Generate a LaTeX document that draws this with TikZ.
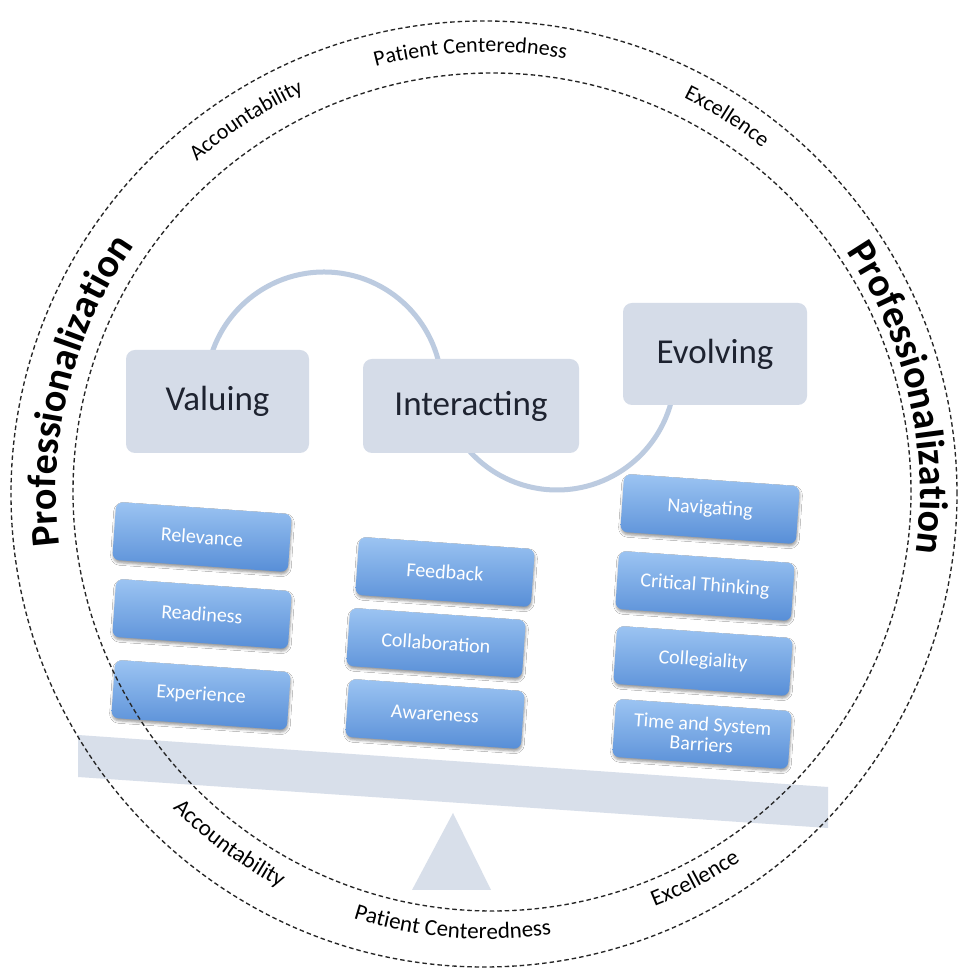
\documentclass[tikz,border=0pt]{standalone}
\usepackage{fontspec}
\setmainfont{Carlito}
\usepackage{xcolor}
\definecolor{stageGray}{HTML}{D5DCE8}
\definecolor{beamGray}{HTML}{D8DFEA}
\definecolor{waveBlue}{HTML}{BCCBE0}
\definecolor{itemTop}{HTML}{9CC4F2}
\definecolor{itemBottom}{HTML}{578ED7}
\definecolor{labelInk}{HTML}{1E2330}
\usepackage{tikz}
\usetikzlibrary{shadows.blur,decorations.text}

\newcommand{\ringfont}{\fontsize{22}{22}\selectfont}
\newcommand{\lowringfont}{\fontsize{23}{23}\selectfont}
\newcommand{\bigringfont}{\fontsize{40}{40}\selectfont\bfseries}

\begin{document}
\begin{tikzpicture}[x=1pt,y=1pt,
  stagebox/.style={fill=stageGray,rounded corners=9pt,text=labelInk,
    font=\fontsize{35}{40}\selectfont},
  itembox/.style={rounded corners=7pt,top color=itemTop,bottom color=itemBottom,
    minimum width=176pt,minimum height=58pt,rotate=-4,text=white,align=center,
    font=\fontsize{20}{20}\selectfont,
    blur shadow={shadow xshift=0.5pt,shadow yshift=-2.5pt,shadow blur radius=2.5pt,shadow opacity=40}},
  ringline/.style={black!85,line width=1.35pt,dash pattern=on 4.5pt off 3pt},
  waveline/.style={draw=waveBlue,line width=5pt},
  ringtext/.style={decorate,decoration={text along path,text align=center,text={#1}}}]
  \fill[white] (0,0) rectangle (958,971);
  \useasboundingbox (0,0) rectangle (958,971);

  % the two loops linking the stages
  \coordinate (upperloop) at (324,581);
  \coordinate (lowerloop) at (557,599);
  \draw[waveline] ([shift={(180:118)}]upperloop) arc[start angle=180,end angle=0,radius=118];
  \draw[waveline] ([shift={(180:118)}]lowerloop) arc[start angle=180,end angle=360,radius=118];

  % beam and fulcrum
  \fill[beamGray] (78,236) -- (828,184) -- (828,143) -- (78,194) -- cycle;
  \fill[beamGray] (453,158) -- (491,81) -- (412,81) -- cycle;

  % stages
  \node[stagebox,minimum width=183pt,minimum height=103pt] (valuing) at (217.5,569.5) {Valuing};
  \node[stagebox,minimum width=216pt,minimum height=94pt] (interacting) at (471,565) {Interacting};
  \node[stagebox,minimum width=184pt,minimum height=102pt] (evolving) at (715,617) {Evolving};

  % items under each stage
  \node[itembox] (relevance) at (202,434) {Relevance};
  \node[itembox] (readiness) at (202,357) {Readiness};
  \node[itembox] (experience) at (201,276) {Experience};
  \node[itembox] (feedback) at (445,399) {Feedback};
  \node[itembox] (collaboration) at (436,328) {Collaboration};
  \node[itembox] (awareness) at (435,257) {Awareness};
  \node[itembox] (navigating) at (710,462) {Navigating};
  \node[itembox] (critical) at (705,385) {Critical Thinking};
  \node[itembox] (collegiality) at (703,310) {Collegiality};
  \node[itembox] (barriers) at (702,237) {Time and System\\Barriers};

  % dashed rings
  \coordinate (outerc) at (484,477);
  \coordinate (innerc) at (492,479);
  \coordinate (mid) at (488,478);
  \draw[ringline] (outerc) circle[radius=473];
  \draw[ringline] (innerc) circle[radius=419];

  % words along the rings
  \path[ringtext={|\bigringfont|Professionalization}]
    ([shift={(206:432)}]mid) arc[start angle=206,end angle=126,radius=432];
  \path[ringtext={|\bigringfont|Professionalization}]
    ([shift={(53:432)}]mid) arc[start angle=53,end angle=-27,radius=432];
  \path[ringtext={|\ringfont|Accountability}]
    ([shift={(163:441)}]mid) arc[start angle=163,end angle=83,radius=441];
  \path[ringtext={|\ringfont|Patient Centeredness}]
    ([shift={(132.3:441)}]mid) arc[start angle=132.3,end angle=52.3,radius=441];
  \path[ringtext={|\ringfont|Excellence}]
    ([shift={(97.6:441)}]mid) arc[start angle=97.6,end angle=17.6,radius=441];
  \path[ringtext={|\lowringfont|Accountability}]
    ([shift={(193.6:446)}]mid) arc[start angle=193.6,end angle=273.6,radius=446];
  \path[ringtext={|\lowringfont|Patient Centeredness}]
    ([shift={(225.3:446)}]mid) arc[start angle=225.3,end angle=305.3,radius=446];
  \path[ringtext={|\lowringfont|Excellence}]
    ([shift={(258.2:446)}]mid) arc[start angle=258.2,end angle=338.2,radius=446];
\end{tikzpicture}
\end{document}
